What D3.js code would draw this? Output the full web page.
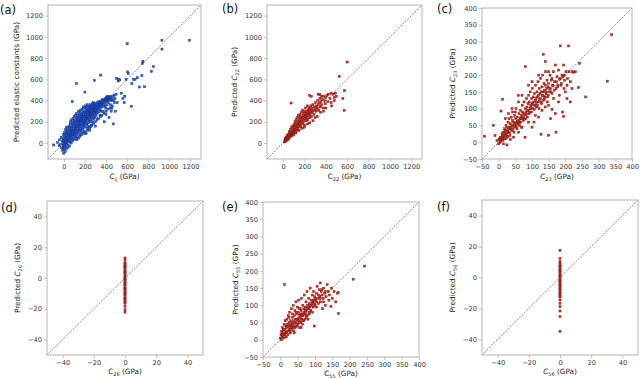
<!DOCTYPE html>
<meta charset="utf-8">
<script src="https://d3js.org/d3.v7.min.js"></script>
<body style="margin:0;background:#fff">
<svg id="fig" width="640" height="379"></svg>
<script>
// [DFT value, predicted value] in GPa

// (a) all Cij
var ptsA = [
  [-95,-18],[-60,5],[-45,-25],[-40,30],[-30,-10],[-25,55],[-20,-45],[-15,15],[-10,-70],[-8,40],[-5,-20],[-3,80],[0,-95],[0,-60],[0,-30],[0,0],[0,25],[2,-40],
  [3,60],[5,-10],[6,15],[8,100],[9,-55],[10,35],[11,-25],[12,5],[14,70],[15,-80],[16,45],[18,125],[19,-5],[20,20],[21,90],[22,-35],[24,55],[25,150],[26,10],[28,-15],[29,75],[30,30],[31,110],[32,-50],[34,50],[35,5],[36,95],[38,135],[39,25],[40,65],[41,-20],[42,40],[44,115],[45,80],[46,15],[48,55],[49,160],[50,35],
  [52,100],[53,-30],[55,70],[56,140],[58,10],[59,45],[60,180],[61,85],[62,25],[64,120],[65,60],[66,200],[68,95],[69,0],[70,150],[71,40],[72,75],[74,220],[75,110],[76,55],[78,130],[79,170],[80,390],[80,85],[81,20],[82,140],[84,100],[85,190],[86,60],[88,120],[89,230],[90,80],[91,160],[92,35],[94,110],[95,200],[96,140],[98,70],[99,250],[100,120],
  [101,180],[102,90],[104,210],[105,40],[106,150],[108,130],[109,260],[110,100],[111,170],[112,60],[114,200],[115,140],[116,230],[118,110],[119,280],[120,560],[120,160],[121,75],[122,190],[124,130],[125,240],[126,95],[128,170],[129,210],[130,140],[131,50],[132,260],[134,185],[135,120],[136,220],[138,160],[139,300],[140,200],[141,90],[142,240],[144,170],[145,130],[146,270],[148,195],[149,110],[150,230],
  [151,160],[152,290],[154,210],[155,70],[156,180],[158,250],[159,140],[160,310],[161,200],[162,120],[164,230],[165,170],[166,270],[168,210],[169,100],[170,250],[171,190],[172,320],[174,230],[175,150],[176,280],[178,200],[179,260],[180,130],[181,220],[182,300],[184,180],[185,250],[186,340],[188,210],[189,160],[190,270],[191,230],[192,110],[194,290],[195,200],[196,250],[198,330],[199,180],[200,480],
  [200,240],[201,150],[202,290],[204,210],[205,350],[206,260],[208,190],[209,310],[210,230],[211,90],[212,280],[214,200],[215,330],[216,250],[218,170],[219,300],[220,230],[221,360],[222,270],[224,140],[225,310],[226,220],[228,290],[229,250],[230,340],[231,190],[232,270],[234,310],[235,230],[236,160],[238,290],[239,350],[240,250],[241,210],[242,320],[244,280],[245,120],[246,300],[248,240],[249,340],
  [250,270],[251,200],[252,310],[254,260],[255,360],[256,290],[258,220],[259,330],[260,280],[261,170],[262,310],[264,250],[265,350],[266,300],[268,230],[269,330],[270,280],[271,370],[272,310],[274,200],[275,340],[276,270],[278,300],[279,350],[280,250],[281,320],[282,380],[284,290],[285,230],[286,340],[288,310],[289,360],[290,590],[290,270],[292,330],[294,300],[295,370],[296,240],[298,340],[299,310],
  [300,290],[302,350],[304,320],[305,260],[306,370],[308,310],[310,340],[312,280],[314,360],[315,330],[316,220],[318,350],[320,310],[322,380],[324,340],[325,290],[328,360],[330,330],[332,390],[334,300],[335,350],[338,370],[340,340],[342,260],[344,380],[345,320],[348,360],[350,640],[350,390],[352,350],[355,300],[358,380],[360,360],[362,410],[365,340],[368,390],[370,370],[372,300],[375,400],[378,360],[380,390],[383,200],[385,410],[388,380],[390,350],[392,420],[395,400],[398,330],
  [400,410],[403,390],[405,430],[408,360],[410,420],[412,400],[415,440],[418,410],[420,380],[423,430],[425,400],[428,240],[430,420],[435,410],[438,440],[440,360],[445,420],[448,400],[450,430],[455,330],[460,410],[465,440],[470,180],[472,400],[478,450],[485,420],[490,300],[495,460],
  [500,610],[505,380],[515,585],[520,600],[530,595],[545,470],[560,420],[572,380],[578,440],[590,600],[600,935],[605,670],[612,655],[640,345],[645,560],[660,600],[675,600],[695,615],[717,528],[740,635],[745,750],[750,770],[765,530],[830,675],[850,720],[930,885],[930,968],[1190,968],
  [250,150],[280,180],[300,200],[330,230],[360,260],[380,280],[400,300],[420,320],[440,330],[460,350],[480,380],[300,160],[350,250],[400,270],[450,300],[200,100],[220,120],[240,140],[260,160],[150,60],[170,80],[190,90],[120,30],[140,45]
];

// (b) C22
var ptsB = [
  [15,10],[18,30],[20,20],[22,45],[25,15],[28,35],[30,55],[32,25],[35,40],[38,70],[40,30],[42,55],[45,45],[48,80],[50,60],[52,35],[55,75],[58,95],[60,50],[62,110],[65,70],[68,90],[70,60],[72,130],[75,85],[75,377],[78,105],[80,70],[82,150],[85,95],[88,120],[90,80],[92,160],[95,110],[98,140],[100,90],
  [102,175],[105,125],[108,100],[110,150],[112,200],[115,130],[118,170],[120,110],[122,220],[125,150],[128,180],[130,120],[132,240],[135,160],[138,200],[140,140],[142,260],[145,180],[148,210],[150,160],[152,235],[155,190],[158,270],[160,170],[162,210],[165,250],[168,150],[170,225],[172,290],[175,200],[178,240],[180,180],[182,310],[185,230],[188,260],[190,200],[192,280],[195,240],[198,220],
  [200,300],[202,170],[205,260],[208,230],[210,330],[212,250],[215,280],[218,210],[220,300],[222,260],[225,240],[228,350],[230,280],[232,220],[235,310],[238,260],[240,290],[242,330],[245,270],[247,449],[250,300],[252,240],[255,320],[258,280],[260,350],[265,300],[265,440],[268,250],[270,330],[275,290],[280,360],[285,310],[290,270],[295,340],
  [300,320],[305,380],[310,300],[315,350],[320,330],[325,400],[330,360],[330,460],[335,310],[340,380],[345,420],[345,455],[350,340],[355,390],[360,360],[360,440],[370,410],[375,330],[380,440],[390,400],[395,370],[400,430],[410,450],[420,390],[425,460],[440,420],[450,470],[455,350],[470,460],[480,430],[490,470],[500,440],
  [525,628],[560,420],[572,308],[575,493],[600,763],
  [200,150],[250,190],[300,240],[350,290],[400,330],[450,380],[480,400],[380,300],[320,250],[280,210],[230,180],[180,140],[150,120],[120,95],[100,75]
];

// (c) C23
var ptsC = [
  [-42,18],[-16,50],[-11,20],[-5,5],[0,-5],[2,10],[4,0],[5,15],[7,93],[8,5],[10,25],[12,128],[12,10],[14,30],[15,-5],[16,20],[18,40],[19,25],[20,10],[21,35],[22,50],[24,28],[25,45],[26,15],[28,60],[29,38],[30,30],[31,70],[32,45],[34,20],[35,55],[36,40],[38,75],[39,50],[40,35],[41,65],[42,90],[44,48],[45,60],[46,30],[48,80],[49,55],[50,45],
  [51,70],[52,100],[54,60],[55,40],[56,75],[58,55],[59,140],[60,65],[61,85],[62,50],[64,70],[65,95],[66,60],[68,80],[69,45],[70,75],[71,110],[72,90],[74,65],[75,85],[76,120],[78,80],[79,15],[80,225],[80,100],[81,70],[82,90],[84,130],[85,105],[86,75],[88,115],[89,95],[90,140],[91,85],[92,120],[94,100],[95,150],[96,110],[98,90],[99,130],[100,115],
  [101,160],[102,100],[104,135],[105,120],[106,60],[108,145],[109,110],[110,125],[111,170],[112,130],[114,105],[115,150],[116,135],[118,180],[119,120],[120,140],[121,100],[122,160],[124,145],[125,130],[126,190],[127,24],[128,150],[129,115],[130,165],[131,140],[132,200],[134,150],[134,262],[135,125],[136,175],[138,155],[139,135],[140,170],[141,210],[142,145],[144,160],[145,185],[146,120],[148,165],[149,140],
  [150,21],[150,175],[152,150],[154,200],[155,160],[156,70],[158,185],[160,145],[162,170],[164,210],[165,130],[168,180],[170,85],[172,30],[172,160],[175,195],[178,170],[180,215],[182,140],[185,287],[185,190],[188,175],[190,200],[192,90],[195,77],[196,160],[198,185],[200,150],
  [202,210],[205,130],[207,190],[210,287],[211,210],[215,120],[221,210],[225,208],[230,210],[240,163],[243,235],[261,135],[326,182],[339,320],
  [3,8],[6,2],[9,12],[11,18],[13,6],[17,14],[19,32],[23,20],[27,33],[27,18],[33,28],[37,45],[43,38],[47,52],[53,48],[57,62],[63,58],[67,70],[73,72],[77,68],[83,82],[87,95],[93,88],[97,104],[103,112],[107,98],[113,118],[117,110],[123,128],[127,120],[133,138],[137,128],[143,150],[147,135],[153,160],[157,150],[163,168],[167,155],[173,180],[177,165],[183,188],[187,170],[193,195],[197,200],
  [60,30],[70,45],[90,60],[110,80],[130,95],[150,110],[160,98],[45,15],[35,8],[25,-8],[100,45],[120,75],[140,105],[180,120],[205,170],[215,180],[220,160],[195,230],[170,230],[160,190],[150,210],[140,240],[120,200],[100,180],[90,170],[70,140],[60,120],[50,90],[40,100],[30,85],[20,70]
];

// (d) C26: DFT value is 0 for every structure
var predD = [13,11.5,9.8,9.1,8.4,7.6,6.9,6.1,5.2,4.4,3.7,2.8,2.1,1.3,0.5,-0.2,-1.1,-1.8,-2.6,-3.5,-4.1,-5.0,-5.8,-6.7,-7.3,-8.2,-9.0,-9.9,-10.6,-11.5,-12.3,-13.2,-14.0,-14.8,-15.9,-16.5,-18.5,-20.6,-22.2];

// (e) C55
var ptsE = [
  [0,5],[2,15],[3,0],[4,25],[5,10],[6,35],[8,18],[9,5],[10,28],[11,45],[12,160],[12,15],[13,30],[14,55],[15,20],[16,40],[17,8],[18,35],[19,60],[20,25],[21,45],[22,15],[23,70],[24,38],[25,50],[26,28],[27,80],[28,42],[29,20],[30,55],[31,35],[32,90],[33,48],[34,30],[35,65],[36,40],[37,100],[38,55],[39,25],[40,70],[41,48],[42,85],[43,35],[44,60],[45,110],[46,50],[47,75],[48,40],[49,95],[50,60],
  [51,45],[52,80],[53,115],[54,55],[55,70],[56,35],[57,90],[58,65],[59,50],[60,85],[61,120],[62,60],[63,75],[64,45],[65,100],[66,70],[67,55],[68,90],[69,130],[70,75],[71,60],[72,95],[73,80],[74,110],[75,65],[76,85],[77,140],[78,70],[79,100],[80,90],[82,120],[83,75],[84,105],[85,95],[86,150],[88,85],[89,115],[90,100],[92,130],[93,80],[94,110],[95,95],[96,140],[98,40],[98,105],[99,125],[100,100],
  [102,115],[104,135],[105,95],[106,155],[108,120],[110,105],[112,145],[114,125],[115,165],[116,110],[118,140],[120,130],[122,90],[124,120],[125,150],[128,135],[130,100],[132,125],[135,160],[138,140],[140,115],[142,130],[146,97],[148,150],[150,120],[155,140],[160,110],[165,135],[167,137],[168,76],[210,176],[243,214],
  [5,20],[7,12],[9,30],[15,10],[18,22],[22,38],[25,30],[28,25],[32,40],[35,45],[38,35],[42,50],[45,40],[48,58],[52,62],[55,50],[58,75],[62,70],[65,55],[68,80],[72,85],[75,70],[78,90],[82,95],[85,80],[88,100],[92,105],[95,115],[100,120],[105,110],[110,130],[115,120],[120,145],[125,110],[130,140],[55,90],[45,80],[35,75],[25,65],[40,20],[60,35],[80,60]
];

// (f) C56: DFT value is 0 for every structure
var predF = [17.5,12.3,10.2,9.0,8.1,7.2,6.4,5.5,4.8,4.0,3.1,2.3,1.6,0.8,0,-0.9,-1.7,-2.5,-3.4,-4.2,-5.1,-6.0,-6.8,-7.7,-8.5,-9.4,-10.2,-11.1,-12.0,-12.6,-14.5,-16.6,-18.8,-21.6,-25.3,-34.8];

var ticksBig = [0,200,400,600,800,1000,1200];
var ticksMid = [-50,0,50,100,150,200,250,300,350,400];
var ticksSmall = [-40,-20,0,20,40];

var blue = {fill:"#2f63dc", edge:"#0d2a80"};
var red = {fill:"#c8352b", edge:"#7a0e0a"};

function sub(n, it) { return [{t:"C", it:it}, {t:n, sub:true}]; }

var panels = [
  {tag:"(a)", pts:ptsA, dom:[-150,1300], ticks:ticksBig, box:[48,5,201,159], col:blue, tagX:0, tagY:14, yl:19, yb:179,
   xlab:sub("ij", true).concat([{t:" (GPa)"}]), ylab:[{t:"Predicted elastic constants (GPa)"}]},
  {tag:"(b)", pts:ptsB, dom:[-150,1300], ticks:ticksBig, box:[267,5,422,159], col:red, tagX:222, tagY:13, yl:237, yb:179,
   xlab:sub("22", false).concat([{t:" (GPa)"}]), ylab:[{t:"Predicted "}].concat(sub("22", true), [{t:" (GPa)"}])},
  {tag:"(c)", pts:ptsC, dom:[-50,400], ticks:ticksMid, box:[482,8,632,159], col:red, tagX:437, tagY:13, yl:455, yb:179,
   xlab:sub("23", true).concat([{t:" (GPa)"}]), ylab:[{t:"Predicted "}].concat(sub("23", true), [{t:" (GPa)"}])},
  {tag:"(d)", pts:predD.map(function(v){ return [0, v]; }), dom:[-50,50], ticks:ticksSmall, box:[47,201,203,355], col:red, tagX:1, tagY:212, yl:20, yb:374,
   xlab:sub("26", false).concat([{t:" (GPa)"}]), ylab:[{t:"Predicted "}].concat(sub("26", true), [{t:" (GPa)"}])},
  {tag:"(e)", pts:ptsE, dom:[-50,400], ticks:ticksMid, box:[263,202,419,357], col:red, tagX:222, tagY:211, yl:238, yb:376,
   xlab:sub("55", false).concat([{t:" (GPa)"}]), ylab:[{t:"Predicted "}].concat(sub("55", true), [{t:" (GPa)"}])},
  {tag:"(f)", pts:predF.map(function(v){ return [0, v]; }), dom:[-50,50], ticks:ticksSmall, box:[482,200,638,355], col:red, tagX:437, tagY:211, yl:455, yb:374,
   xlab:sub("56", true).concat([{t:" (GPa)"}]), ylab:[{t:"Predicted "}].concat(sub("56", true), [{t:" (GPa)"}])}
];

var svg = d3.select("#fig");
var font = "DejaVu Sans, sans-serif";
var labelSize = 7.3, tickSize = 6.7;

function richText(sel, parts, size) {
  var wasSub = false;
  parts.forEach(function(p) {
    var ts = sel.append("tspan").text(p.t);
    if (p.it) ts.attr("font-style", "italic");
    if (p.sub) { ts.attr("font-size", size * 0.68).attr("dy", 1.6); wasSub = true; }
    else if (wasSub) { ts.attr("dy", -1.6); wasSub = false; }
  });
}

panels.forEach(function(p) {
  var b = p.box;
  var x = d3.scaleLinear().domain(p.dom).range([b[0], b[2]]);
  var y = d3.scaleLinear().domain(p.dom).range([b[3], b[1]]);
  var g = svg.append("g").attr("font-family", font);

  var xa = g.append("g").attr("transform", "translate(0," + b[3] + ")")
    .call(d3.axisBottom(x).tickValues(p.ticks).tickSize(3).tickPadding(2).tickFormat(d3.format("d")));
  var ya = g.append("g").attr("transform", "translate(" + b[0] + ",0)")
    .call(d3.axisLeft(y).tickValues(p.ticks).tickSize(3).tickPadding(2).tickFormat(d3.format("d")));
  [xa, ya].forEach(function(a) {
    a.select(".domain").remove();
    a.selectAll("line").attr("stroke", "#999").attr("stroke-width", 0.6);
    a.selectAll("text").attr("font-family", font).attr("font-size", tickSize).attr("fill", "#333");
  });

  // markers
  g.append("g").selectAll("rect").data(p.pts).enter().append("rect")
    .attr("x", function(d){ return x(d[0]) - 1.05; })
    .attr("y", function(d){ return y(d[1]) - 1.05; })
    .attr("width", 2.1).attr("height", 2.1)
    .attr("fill", p.col.fill).attr("stroke", p.col.edge).attr("stroke-width", 0.4);

  // y = x reference line
  g.append("line")
    .attr("x1", x(p.dom[0])).attr("y1", y(p.dom[0]))
    .attr("x2", x(p.dom[1])).attr("y2", y(p.dom[1]))
    .attr("stroke", "#333").attr("stroke-width", 0.6).attr("stroke-dasharray", "2,1.3");

  g.append("rect").attr("x", b[0]).attr("y", b[1])
    .attr("width", b[2] - b[0]).attr("height", b[3] - b[1])
    .attr("fill", "none").attr("stroke", "#b4b4b4").attr("stroke-width", 1);

  var xl = g.append("text").attr("x", (b[0] + b[2]) / 2).attr("y", p.yb)
    .attr("text-anchor", "middle").attr("font-size", labelSize).attr("fill", "#222");
  richText(xl, p.xlab, labelSize);

  var yl = g.append("text")
    .attr("transform", "translate(" + p.yl + "," + ((b[1] + b[3]) / 2) + ") rotate(-90)")
    .attr("text-anchor", "middle").attr("font-size", labelSize).attr("fill", "#222");
  richText(yl, p.ylab, labelSize);

  g.append("text").attr("x", p.tagX).attr("y", p.tagY)
    .attr("font-size", 11.5).attr("fill", "#111").text(p.tag);
});
</script>
</body>
